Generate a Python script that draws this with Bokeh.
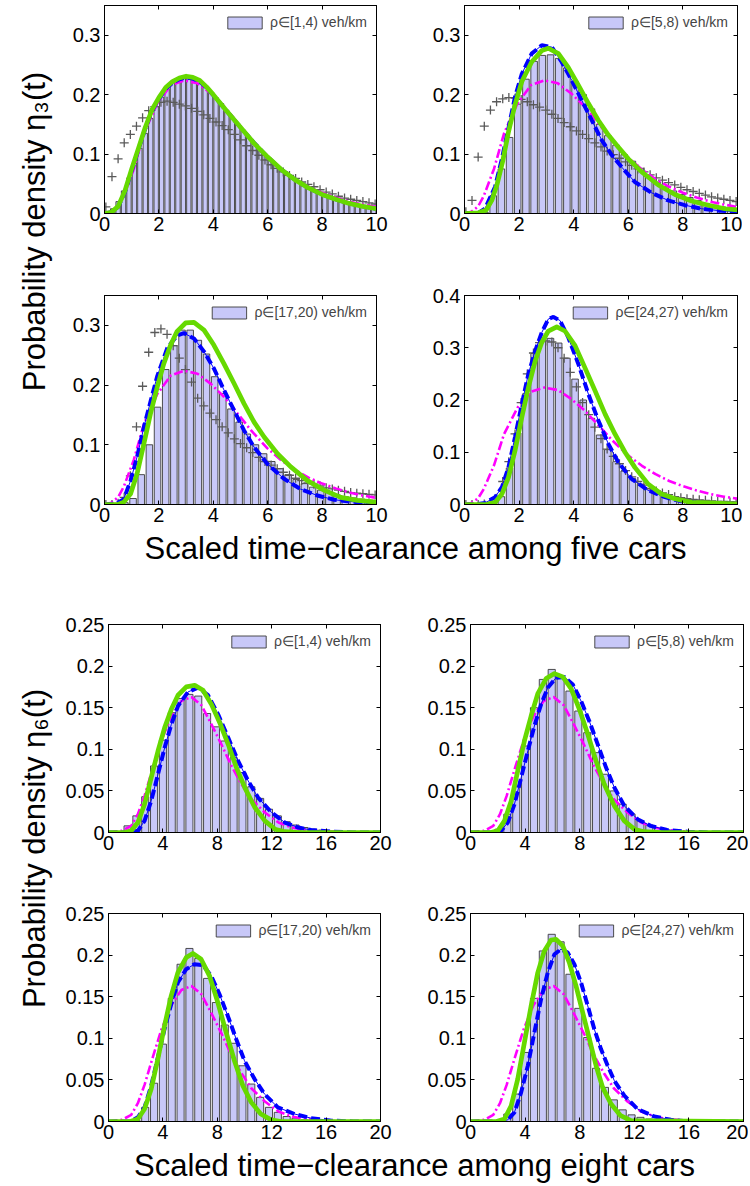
import math
from bokeh.plotting import figure
from bokeh.layouts import row, column
from bokeh.models import Range1d, LinearAxis, FixedTicker, Label, Legend, LegendItem, CustomJSTickFormatter
from bokeh.core.properties import value
from bokeh.embed import file_html
from bokeh.resources import INLINE

FONT = "Liberation Sans"
BAR_FILL = "#c8c8f8"
BAR_LINE = "#3a3a3a"
GREEN = "#66d900"
BLUE = "#0000ff"
MAGENTA = "#ff00ff"
CROSS = "#5a5a5a"

# ---------------- data: top block (eta_3, five cars) ----------------
labels_top = ["ρ∈[1,4) veh/km", "ρ∈[5,8) veh/km", "ρ∈[17,20) veh/km", "ρ∈[24,27) veh/km"]
labels_bot = labels_top

bins1_x = [round(0.1 + 0.2 * k, 3) for k in range(50)]
bins234_x = [round(0.15 + 0.3 * k, 3) for k in range(33)]

bars1 = [0.002, 0.008, 0.020, 0.038, 0.060, 0.085, 0.110, 0.135, 0.160, 0.180,
         0.196, 0.210, 0.220, 0.226, 0.231, 0.232, 0.229, 0.222, 0.213, 0.204,
         0.195, 0.185, 0.173, 0.162, 0.151, 0.140, 0.129, 0.118, 0.108, 0.099,
         0.090, 0.082, 0.074, 0.067, 0.061, 0.055, 0.049, 0.044, 0.039, 0.035,
         0.031, 0.028, 0.025, 0.022, 0.020, 0.017, 0.015, 0.013, 0.011, 0.010]
bars2 = [0, 0, 0.002, 0.030, 0.075, 0.128, 0.184, 0.226, 0.256, 0.266, 0.267,
         0.261, 0.245, 0.222, 0.200, 0.176, 0.150, 0.131, 0.115, 0.099, 0.088,
         0.076, 0.064, 0.053, 0.045, 0.038, 0.032, 0.027, 0.022, 0.017, 0.014, 0.011, 0.009]
bars3 = [0, 0, 0.003, 0.010, 0.050, 0.100, 0.163, 0.226, 0.266, 0.292, 0.292,
         0.275, 0.252, 0.214, 0.186, 0.160, 0.138, 0.118, 0.100, 0.085, 0.072,
         0.060, 0.050, 0.042, 0.035, 0.029, 0.024, 0.020, 0.016, 0.013, 0.011, 0.009, 0.007]
bars4 = [0, 0, 0.001, 0.003, 0.015, 0.070, 0.137, 0.212, 0.289, 0.316, 0.318,
         0.309, 0.280, 0.240, 0.200, 0.165, 0.133, 0.105, 0.082, 0.064, 0.050,
         0.039, 0.030, 0.023, 0.018, 0.014, 0.011, 0.009, 0.007, 0.006, 0.005, 0.004, 0.004]

plus_x = [round(0.05 + 0.225 * k, 3) for k in range(45)]
plus1 = [0.011, 0.062, 0.092, 0.119, 0.133, 0.147, 0.161, 0.173, 0.180, 0.187,
         0.189, 0.187, 0.184, 0.181, 0.177, 0.172, 0.166, 0.160, 0.154, 0.148,
         0.141, 0.133, 0.124, 0.114, 0.106, 0.098, 0.090, 0.082, 0.076, 0.070,
         0.064, 0.059, 0.053, 0.049, 0.045, 0.040, 0.036, 0.033, 0.029, 0.026,
         0.024, 0.022, 0.020, 0.018, 0.016]
plus2 = [0.003, 0.022, 0.095, 0.147, 0.174, 0.188, 0.193, 0.195, 0.194, 0.192,
         0.188, 0.183, 0.179, 0.174, 0.167, 0.160, 0.153, 0.146, 0.139, 0.133,
         0.126, 0.119, 0.112, 0.105, 0.099, 0.093, 0.087, 0.081, 0.075, 0.070,
         0.065, 0.060, 0.056, 0.052, 0.048, 0.044, 0.040, 0.037, 0.034, 0.031,
         0.028, 0.026, 0.024, 0.022, 0.020]
plus3 = [0.000, 0.000, 0.002, 0.012, 0.048, 0.130, 0.198, 0.255, 0.288, 0.294,
         0.285, 0.266, 0.245, 0.226, 0.205, 0.178, 0.165, 0.153, 0.142, 0.130,
         0.120, 0.110, 0.102, 0.095, 0.087, 0.079, 0.072, 0.066, 0.060, 0.054,
         0.049, 0.044, 0.040, 0.036, 0.034, 0.031, 0.028, 0.026, 0.024, 0.022,
         0.020, 0.019, 0.018, 0.017, 0.016]
plus4 = [0, 0, 0, 0.001, 0.004, 0.012, 0.044, 0.082, 0.135, 0.195,
         0.250, 0.290, 0.310, 0.313, 0.311, 0.300, 0.280, 0.253, 0.225, 0.195,
         0.172, 0.148, 0.126, 0.106, 0.092, 0.078, 0.065, 0.053, 0.044, 0.037,
         0.031, 0.026, 0.022, 0.019, 0.015, 0.013, 0.011, 0.010, 0.009, 0.008,
         0.007, 0.006, 0.006, 0.005, 0.005]

mag_top_x = [0, 0.25, 0.5, 0.71, 1.08, 1.45, 1.94, 2.44, 2.93, 3.42, 3.91, 4.4, 4.9,
             5.39, 5.99, 6.5, 7.0, 7.5, 8.0, 8.5, 9.0, 9.5, 10]
mag_top_y = [0, 0.003, 0.012, 0.030, 0.075, 0.135, 0.185, 0.216, 0.224, 0.219, 0.202,
             0.180, 0.152, 0.124, 0.094, 0.074, 0.058, 0.045, 0.035, 0.027, 0.020, 0.015, 0.011]

green1_x = [0, 0.25, 0.5, 0.75, 1.0, 1.25, 1.5, 1.75, 2.0, 2.25, 2.5, 2.75, 3.0, 3.25, 3.5,
            3.75, 4.0, 4.5, 5.0, 5.5, 6.0, 6.5, 7.0, 7.5, 8.0, 8.5, 9.0, 9.5, 10]
green1_y = [0, 0.002, 0.012, 0.038, 0.075, 0.110, 0.145, 0.175, 0.195, 0.212, 0.222, 0.228,
            0.231, 0.229, 0.224, 0.213, 0.200, 0.172, 0.145, 0.118, 0.095, 0.074, 0.057,
            0.043, 0.032, 0.024, 0.017, 0.012, 0.008]
blue1_x = green1_x
blue1_y = [0, 0.002, 0.011, 0.036, 0.072, 0.108, 0.143, 0.173, 0.193, 0.210, 0.220, 0.226,
           0.229, 0.227, 0.222, 0.212, 0.199, 0.172, 0.145, 0.119, 0.095, 0.074, 0.057,
           0.043, 0.032, 0.024, 0.017, 0.012, 0.008]

green2_x = [0, 0.5, 0.8, 1.0, 1.2, 1.4, 1.6, 1.85, 2.1, 2.46, 2.83, 3.07, 3.44, 3.8, 4.17,
            4.54, 4.9, 5.27, 5.63, 6.0, 6.49, 7.1, 7.71, 8.32, 8.93, 9.54, 10]
green2_y = [0, 0.001, 0.006, 0.022, 0.050, 0.088, 0.135, 0.183, 0.222, 0.255, 0.274, 0.278,
            0.269, 0.246, 0.216, 0.185, 0.157, 0.132, 0.112, 0.092, 0.070, 0.048, 0.032,
            0.021, 0.014, 0.008, 0.006]
blue2_x = [0, 0.5, 0.75, 1.12, 1.37, 1.62, 1.85, 2.1, 2.46, 2.83, 3.2, 3.56, 3.93, 4.3,
           4.66, 5.03, 5.4, 5.76, 6.24, 6.85, 7.46, 8.07, 8.68, 9.4, 10]
blue2_y = [0, 0.001, 0.008, 0.045, 0.092, 0.146, 0.196, 0.235, 0.269, 0.283, 0.280, 0.255,
           0.224, 0.190, 0.157, 0.123, 0.098, 0.078, 0.053, 0.035, 0.022, 0.014, 0.008,
           0.0045, 0.003]

green3_x = [0, 0.5, 0.71, 0.96, 1.2, 1.45, 1.69, 1.94, 2.18, 2.43, 2.67, 2.98, 3.29, 3.66,
            4.02, 4.39, 4.76, 5.13, 5.5, 5.87, 6.36, 6.85, 7.46, 8.07, 8.69, 9.3, 10]
green3_y = [0, 0, 0.004, 0.018, 0.052, 0.102, 0.152, 0.197, 0.236, 0.267, 0.290, 0.304,
            0.305, 0.292, 0.267, 0.236, 0.203, 0.169, 0.138, 0.113, 0.085, 0.063, 0.040,
            0.024, 0.012, 0.007, 0.004]
blue3_x = [0, 0.45, 0.71, 0.96, 1.2, 1.45, 1.69, 1.94, 2.31, 2.67, 2.92, 3.29, 3.66, 4.02,
           4.39, 4.76, 5.13, 5.5, 5.99, 6.6, 7.2, 7.83, 8.44, 9.67, 10]
blue3_y = [0, 0.002, 0.009, 0.040, 0.080, 0.130, 0.172, 0.215, 0.262, 0.283, 0.287, 0.278,
           0.256, 0.228, 0.192, 0.158, 0.124, 0.096, 0.068, 0.043, 0.026, 0.015, 0.008,
           0.002, 0.002]

green4_x = [0, 0.8, 1.12, 1.37, 1.61, 1.85, 2.1, 2.34, 2.59, 2.83, 3.07, 3.38, 3.68, 4.05,
            4.41, 4.78, 5.15, 5.51, 5.88, 6.24, 6.73, 7.22, 7.71, 8.32, 8.93, 10]
green4_y = [0, 0, 0.004, 0.020, 0.052, 0.103, 0.167, 0.224, 0.275, 0.310, 0.332, 0.340,
            0.332, 0.304, 0.262, 0.218, 0.173, 0.135, 0.100, 0.071, 0.039, 0.020, 0.011,
            0.004, 0.003, 0.001]
blue4_x = [0, 0.5, 0.76, 1.12, 1.37, 1.61, 1.85, 2.1, 2.34, 2.59, 2.83, 3.07, 3.26, 3.5,
           3.8, 4.17, 4.54, 4.9, 5.27, 5.63, 6.12, 6.73, 7.34, 7.95, 8.68, 10]
blue4_y = [0, 0.001, 0.003, 0.014, 0.033, 0.071, 0.129, 0.192, 0.250, 0.294, 0.329, 0.355,
           0.359, 0.352, 0.320, 0.269, 0.211, 0.161, 0.116, 0.081, 0.049, 0.027, 0.014,
           0.006, 0.003, 0.001]

# ---------------- data: bottom block (eta_6, eight cars) ----------------
bins_bot_x = [round(0.1 + 0.65 * k, 3) for k in range(31)]
bars5 = [0, 0.001, 0.008, 0.020, 0.043, 0.080, 0.111, 0.144, 0.161, 0.166, 0.164,
         0.143, 0.127, 0.110, 0.090, 0.072, 0.055, 0.041, 0.028, 0.020, 0.013,
         0.009, 0.006, 0.004, 0.003, 0.002, 0.001, 0.001, 0.0005, 0.0005, 0]
bars6 = [0, 0, 0.001, 0.004, 0.022, 0.055, 0.104, 0.150, 0.184, 0.196, 0.188,
         0.170, 0.146, 0.120, 0.096, 0.070, 0.050, 0.034, 0.022, 0.014, 0.009,
         0.005, 0.003, 0.002, 0.001, 0.001, 0, 0, 0, 0, 0]
bars7 = [0, 0, 0, 0.002, 0.017, 0.046, 0.093, 0.148, 0.189, 0.208, 0.196,
         0.172, 0.143, 0.116, 0.094, 0.067, 0.045, 0.029, 0.017, 0.011, 0.006,
         0.004, 0.002, 0.001, 0.001, 0, 0, 0, 0, 0, 0]
bars8 = [0, 0, 0, 0.001, 0.009, 0.033, 0.083, 0.148, 0.205, 0.225, 0.216,
         0.177, 0.136, 0.101, 0.064, 0.041, 0.026, 0.014, 0.008, 0.005, 0.003,
         0.002, 0.001, 0, 0, 0, 0, 0, 0, 0, 0]

mag_bot_x = [0, 1.0, 1.67, 2.16, 2.65, 3.27, 3.88, 4.62, 5.36, 6.09, 6.83, 7.57, 8.3, 9.04,
             9.78, 10.5, 11.5, 12.5, 13.5, 14.4, 15.9, 17.5, 20]
mag_bot_y = [0, 0.002, 0.008, 0.022, 0.044, 0.078, 0.110, 0.140, 0.158, 0.163, 0.153,
             0.130, 0.106, 0.080, 0.058, 0.040, 0.024, 0.012, 0.006, 0.003, 0.001, 0, 0]

green5_x = [0, 1.2, 1.67, 2.16, 2.65, 3.14, 3.64, 4.13, 4.62, 5.11, 5.72, 6.34, 6.95, 7.57,
            8.18, 8.8, 9.41, 10.02, 10.76, 11.5, 12.24, 12.97, 14, 20]
green5_y = [0, 0, 0.002, 0.012, 0.034, 0.066, 0.098, 0.126, 0.148, 0.165, 0.175, 0.177,
            0.171, 0.154, 0.132, 0.106, 0.078, 0.054, 0.030, 0.014, 0.004, 0.001, 0, 0]
blue5_x = [0, 1.5, 2.16, 2.65, 3.14, 3.64, 4.13, 4.62, 5.11, 5.85, 6.58, 7.32, 8.06, 8.8,
           9.53, 10.27, 11.0, 11.99, 12.97, 13.96, 14.9, 16.4, 18, 20]
blue5_y = [0, 0, 0.002, 0.014, 0.038, 0.070, 0.102, 0.130, 0.152, 0.169, 0.174, 0.165,
           0.142, 0.114, 0.086, 0.062, 0.042, 0.024, 0.012, 0.006, 0.003, 0.001, 0, 0]

green6_x = [0, 1.5, 2.0, 2.49, 2.98, 3.46, 3.95, 4.44, 4.93, 5.54, 6.15, 6.76, 7.37, 7.98,
            8.59, 9.2, 9.8, 10.54, 11.27, 12.0, 12.7, 14, 20]
green6_y = [0, 0, 0.002, 0.014, 0.038, 0.074, 0.110, 0.140, 0.167, 0.185, 0.191, 0.187,
            0.173, 0.148, 0.118, 0.086, 0.058, 0.032, 0.014, 0.004, 0.001, 0, 0]
blue6_x = [0, 1.7, 2.24, 2.73, 3.22, 3.71, 4.2, 4.68, 5.17, 5.66, 6.27, 6.88, 7.49, 8.1,
           8.7, 9.32, 9.93, 10.54, 11.27, 12.24, 13.2, 14.4, 15.9, 17.5, 20]
blue6_y = [0, 0, 0.002, 0.012, 0.034, 0.066, 0.098, 0.128, 0.154, 0.174, 0.186, 0.187,
           0.178, 0.158, 0.134, 0.106, 0.078, 0.054, 0.032, 0.016, 0.008, 0.003, 0.001, 0, 0]

green7_x = [0, 1.6, 2.16, 2.65, 3.14, 3.63, 4.12, 4.61, 5.1, 5.71, 6.2, 6.81, 7.43, 8.04,
            8.65, 9.26, 9.88, 10.5, 11.2, 11.96, 12.7, 20]
green7_y = [0, 0, 0.003, 0.015, 0.039, 0.075, 0.115, 0.151, 0.179, 0.197, 0.202, 0.195,
            0.175, 0.143, 0.107, 0.073, 0.043, 0.023, 0.009, 0.002, 0, 0]
blue7_x = [0, 1.6, 2.16, 2.65, 3.14, 3.63, 4.12, 4.61, 5.1, 5.71, 6.32, 6.94, 7.55, 8.16,
           8.77, 9.39, 10.0, 10.74, 11.47, 12.45, 13.68, 14.9, 16.4, 18, 20]
blue7_y = [0, 0, 0.005, 0.017, 0.043, 0.077, 0.111, 0.141, 0.167, 0.183, 0.189, 0.188,
           0.175, 0.153, 0.127, 0.099, 0.073, 0.051, 0.033, 0.017, 0.009, 0.004, 0.001, 0, 0]

green8_x = [0, 1.9, 2.49, 2.98, 3.46, 3.95, 4.44, 4.93, 5.41, 5.9, 6.27, 6.76, 7.24, 7.73,
            8.22, 8.71, 9.2, 9.68, 10.3, 11.0, 11.76, 20]
green8_y = [0, 0, 0.003, 0.019, 0.051, 0.095, 0.139, 0.179, 0.205, 0.218, 0.219, 0.211,
            0.191, 0.163, 0.131, 0.099, 0.067, 0.041, 0.021, 0.007, 0.001, 0]
blue8_x = [0, 2.2, 2.73, 3.22, 3.71, 4.2, 4.68, 5.17, 5.66, 6.15, 6.63, 7.12, 7.61, 8.1,
           8.59, 9.07, 9.56, 10.05, 10.54, 11.27, 12.24, 13.46, 14.68, 16, 20]
blue8_y = [0, 0, 0.002, 0.011, 0.035, 0.067, 0.107, 0.147, 0.179, 0.201, 0.207, 0.203,
           0.189, 0.167, 0.139, 0.111, 0.087, 0.067, 0.049, 0.031, 0.015, 0.006, 0.002, 0, 0]

xticks_top = [0, 2, 4, 6, 8, 10]
yticks_top = [0, 0.1, 0.2, 0.3]
yticks_top4 = [0, 0.1, 0.2, 0.3, 0.4]
xticks_bot = [0, 4, 8, 12, 16, 20]
yticks_bot = [0, 0.05, 0.1, 0.15, 0.2, 0.25]

titles = {
    "ylab_top": "Probability density η₃(t)",
    "ylab_bot": "Probability density η₆(t)",
    "xlab_top": "Scaled time−clearance among five cars",
    "xlab_bot": "Scaled time−clearance among eight cars",
}


def make_panel(xmax, ymax, xticks, yticks, bx, bh, binw, label,
               mag, blue, green, plus=None, fw=272, fh=208,
               bl=42, br=44, bt=5, bb=47):
    p = figure(frame_width=fw, frame_height=fh,
               x_range=Range1d(0, xmax), y_range=Range1d(0, ymax),
               toolbar_location=None, output_backend="svg",
               min_border_left=bl, min_border_right=br,
               min_border_top=bt, min_border_bottom=bb)
    p.grid.visible = False
    p.outline_line_color = "black"
    p.outline_line_width = 1
    p.background_fill_color = "white"
    p.border_fill_color = "white"

    fmt = CustomJSTickFormatter(code="return String(tick);")
    for ax in p.xaxis:
        ax.ticker = FixedTicker(ticks=xticks)
        ax.formatter = fmt
        ax.major_label_standoff = 3
    for ax in p.yaxis:
        ax.ticker = FixedTicker(ticks=yticks)
        ax.formatter = fmt
        ax.major_label_standoff = 4
    for ax in p.xaxis + p.yaxis:
        ax.major_tick_in = 4
        ax.major_tick_out = 0
        ax.minor_tick_line_color = None
        ax.axis_line_color = "black"
        ax.major_tick_line_color = "black"
        ax.major_label_text_font = FONT
        ax.major_label_text_font_size = "20px"
        ax.major_label_text_color = "black"

    blank_fmt = CustomJSTickFormatter(code="return '';")
    top = LinearAxis(ticker=FixedTicker(ticks=xticks), formatter=blank_fmt,
                     major_label_text_font_size="0px", major_label_standoff=0,
                     major_tick_in=4, major_tick_out=0, minor_tick_line_color=None,
                     axis_line_color="black")
    right = LinearAxis(ticker=FixedTicker(ticks=yticks), formatter=blank_fmt,
                       major_label_text_font_size="0px", major_label_standoff=0,
                       major_tick_in=4, major_tick_out=0, minor_tick_line_color=None,
                       axis_line_color="black")
    p.add_layout(top, "above")
    p.add_layout(right, "right")

    bars = p.vbar(x=bx, top=bh, width=0.8 * binw, bottom=0,
                  fill_color=BAR_FILL, line_color=BAR_LINE, line_width=0.9)
    if plus is not None:
        p.scatter(plus_x, plus, marker="cross", size=9,
                  line_color=CROSS, line_width=1.3)
    p.line(mag[0], mag[1], color=MAGENTA, line_width=2.6, line_dash="9 3 2 3")
    p.line(blue[0], blue[1], color=BLUE, line_width=1)
    p.line(blue[0], blue[1], color=BLUE, line_width=4, line_dash="9 4")
    p.line(green[0], green[1], color=GREEN, line_width=4.7, line_join="round")

    legend = Legend(items=[LegendItem(label=value(label), renderers=[bars])],
                    location="top_right", glyph_width=43, glyph_height=15,
                    label_text_font=FONT, label_text_font_size="14px",
                    label_standoff=4, label_height=15, padding=4, margin=5,
                    spacing=0, border_line_alpha=0, background_fill_alpha=0)
    p.add_layout(legend)
    return p


def blank(w, h):
    f = figure(width=w, height=h, toolbar_location=None, output_backend="svg",
               x_axis_type=None, y_axis_type=None, min_border=0,
               x_range=Range1d(0, 1), y_range=Range1d(0, 1))
    f.outline_line_color = None
    f.grid.visible = False
    return f


mt = (mag_top_x, mag_top_y)
mb = (mag_bot_x, mag_bot_y)

p1 = make_panel(10, 0.35, xticks_top, yticks_top, bins1_x, bars1, 0.2, labels_top[0],
                mt, (blue1_x, blue1_y), (green1_x, green1_y), plus1,
                fw=272, fh=208, bl=42, br=44, bt=5, bb=47)
p2 = make_panel(10, 0.35, xticks_top, yticks_top, bins234_x, bars2, 0.3, labels_top[1],
                mt, (blue2_x, blue2_y), (green2_x, green2_y), plus2,
                fw=273, fh=208, bl=44, br=5, bt=5, bb=47)
p3 = make_panel(10, 0.35, xticks_top, yticks_top, bins234_x, bars3, 0.3, labels_top[2],
                mt, (blue3_x, blue3_y), (green3_x, green3_y), plus3,
                fw=272, fh=209, bl=42, br=44, bt=35, bb=26)
p4 = make_panel(10, 0.4, xticks_top, yticks_top4, bins234_x, bars4, 0.3, labels_top[3],
                mt, (blue4_x, blue4_y), (green4_x, green4_y), plus4,
                fw=273, fh=209, bl=44, br=5, bt=35, bb=26)

p5 = make_panel(20, 0.25, xticks_bot, yticks_bot, bins_bot_x, bars5, 0.65, labels_bot[0],
                mb, (blue5_x, blue5_y), (green5_x, green5_y), None,
                fw=272, fh=208, bl=42, br=44, bt=49, bb=46)
p6 = make_panel(20, 0.25, xticks_bot, yticks_bot, bins_bot_x, bars6, 0.65, labels_bot[1],
                mb, (blue6_x, blue6_y), (green6_x, green6_y), None,
                fw=273, fh=208, bl=44, br=5, bt=49, bb=46)
p7 = make_panel(20, 0.25, xticks_bot, yticks_bot, bins_bot_x, bars7, 0.65, labels_bot[2],
                mb, (blue7_x, blue7_y), (green7_x, green7_y), None,
                fw=272, fh=208, bl=42, br=44, bt=35, bb=26)
p8 = make_panel(20, 0.25, xticks_bot, yticks_bot, bins_bot_x, bars8, 0.65, labels_bot[3],
                mb, (blue8_x, blue8_y), (green8_x, green8_y), None,
                fw=273, fh=208, bl=44, br=5, bt=35, bb=26)

# top block: 0..530, title strip 530..575, bottom block 575..1147, strip 1147..1184
ylab_top = blank(62, 530)
ylab_top.add_layout(Label(x=34, y=299, x_units="screen", y_units="screen",
                          text=titles["ylab_top"], angle=math.pi / 2,
                          text_align="center", text_baseline="middle",
                          text_font=FONT, text_font_size="31px", text_color="black"))
ylab_bot = blank(62, 572)
ylab_bot.add_layout(Label(x=34, y=299, x_units="screen", y_units="screen",
                          text=titles["ylab_bot"], angle=math.pi / 2,
                          text_align="center", text_baseline="middle",
                          text_font=FONT, text_font_size="31px", text_color="black"))

xt_top = blank(742, 45)
xt_top.add_layout(Label(x=415, y=27, x_units="screen", y_units="screen",
                        text=titles["xlab_top"], text_align="center",
                        text_baseline="middle", text_font=FONT,
                        text_font_size="31px", text_color="black"))
xt_bot = blank(742, 37)
xt_bot.add_layout(Label(x=414, y=19, x_units="screen", y_units="screen",
                        text=titles["xlab_bot"], text_align="center",
                        text_baseline="middle", text_font=FONT,
                        text_font_size="31px", text_color="black"))

top_block = row(ylab_top, column(row(p1, p2), row(p3, p4)))
bot_block = row(ylab_bot, column(row(p5, p6), row(p7, p8)))
layout = column(top_block, xt_top, bot_block, xt_bot)

open("out.html", "w").write(file_html(layout, INLINE))
